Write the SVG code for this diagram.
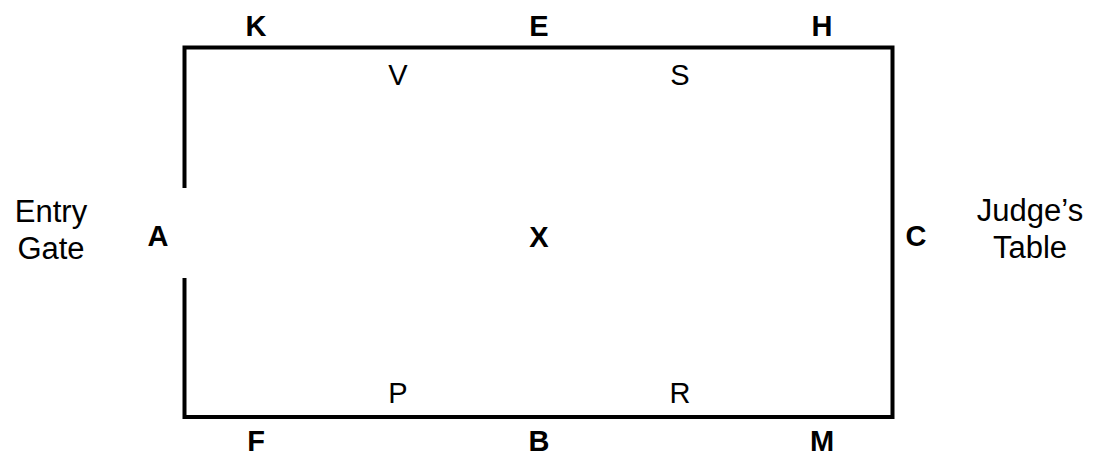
<svg xmlns="http://www.w3.org/2000/svg" width="1095" height="456" viewBox="0 0 1095 456">
<style>
text{font-family:"Liberation Sans",Arial,sans-serif;font-size:29px;fill:#000;text-anchor:middle}
.b{font-weight:bold}
.l{font-size:31px}
.w{fill:none;stroke:#000;stroke-width:4;stroke-linecap:square}
</style>
<rect width="1095" height="456" fill="#fff"/>
<g id="arena">
<path class="w" d="M184.5 186 V47.5 H892.5 V417 H184.5 V280"/>
</g>
<g id="letters">
<text id="K" class="b" x="256" y="36">K</text>
<text id="E" class="b" x="539" y="36">E</text>
<text id="H" class="b" x="822" y="36">H</text>
<text id="V" x="398" y="85">V</text>
<text id="S" x="680" y="85">S</text>
<text id="A" class="b" x="158" y="246">A</text>
<text id="X" class="b" x="539" y="247">X</text>
<text id="C" class="b" x="916" y="246">C</text>
<text id="P" x="398" y="403">P</text>
<text id="R" x="680" y="403">R</text>
<text id="F" class="b" x="256" y="451">F</text>
<text id="B" class="b" x="539" y="451">B</text>
<text id="M" class="b" x="822" y="451">M</text>
</g>
<g id="entry"><text class="l" x="51" y="222">Entry</text><text class="l" x="51" y="259">Gate</text></g>
<g id="judge"><text class="l" x="1030" y="221">Judge’s</text><text class="l" x="1030" y="258">Table</text></g>
</svg>
